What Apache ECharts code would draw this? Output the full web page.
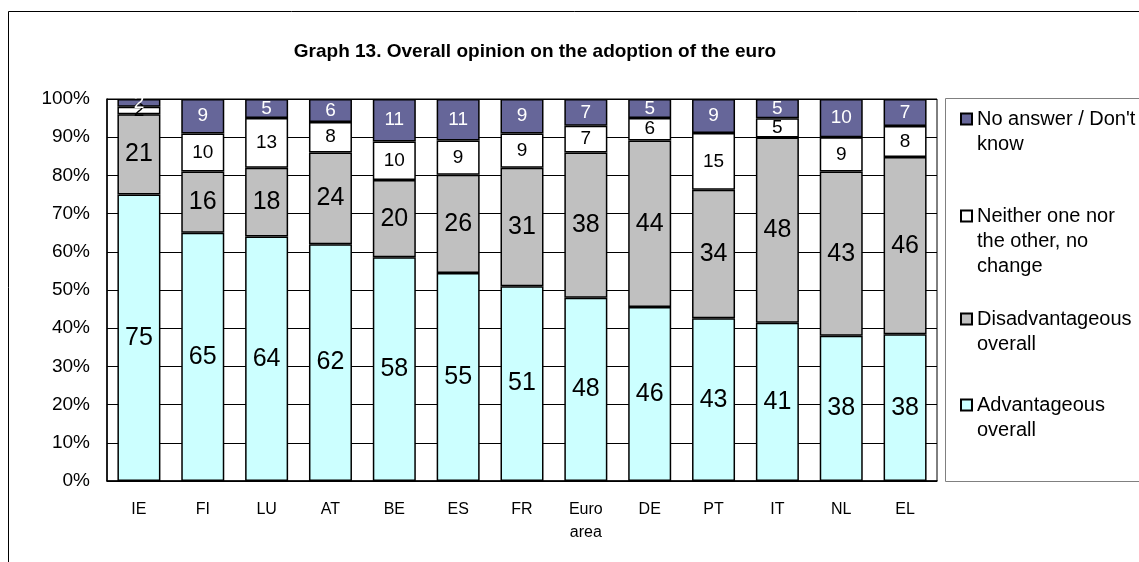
<!DOCTYPE html>
<html>
<head>
<meta charset="utf-8">
<script src="https://cdn.jsdelivr.net/npm/echarts@6/dist/echarts.min.js"></script>
<style>
  html, body { margin: 0; padding: 0; background: #fff; }
  #chart { width: 1139px; height: 562px; }
</style>
</head>
<body>
<div id="chart"></div>
<script>
const categories = ['IE', 'FI', 'LU', 'AT', 'BE', 'ES', 'FR', 'Euro\narea', 'DE', 'PT', 'IT', 'NL', 'EL']
const advantageous = [75, 65, 64, 62, 58, 55, 51, 48, 46, 43, 41, 38, 38]
const disadvantageous = [21, 16, 18, 24, 20, 26, 31, 38, 44, 34, 48, 43, 46]
const neither = [2, 10, 13, 8, 10, 9, 9, 7, 6, 15, 5, 9, 8]
const noAnswer = [2, 9, 5, 6, 11, 11, 9, 7, 5, 9, 5, 10, 7]
const yTicks = [0, 100, 10] // min, max, interval

const FONT = '"Liberation Sans", Arial, sans-serif'

// 100% stacked: plot the share of each row total, label with the raw value
const totals = categories.map((_, i) => advantageous[i] + disadvantageous[i] + neither[i] + noAnswer[i])
const share = arr => arr.map((v, i) => ({ value: v / totals[i] * 100, raw: v }))

const seriesDefs = [
  { name: 'Advantageous overall', data: advantageous, color: '#ccffff', label: '#000', size: 25,
    legend: ['Advantageous', 'overall'], top: 405 },
  { name: 'Disadvantageous overall', data: disadvantageous, color: '#c0c0c0', label: '#000', size: 25,
    legend: ['Disadvantageous', 'overall'], top: 319 },
  { name: 'Neither one nor the other, no change', data: neither, color: '#ffffff', label: '#000', size: 19,
    legend: ['Neither one nor', 'the other, no', 'change'], top: 216 },
  { name: "No answer / Don't know", data: noAnswer, color: '#666699', label: '#fff', size: 19,
    legend: ["No answer / Don't", 'know'], top: 119 },
]

const LH = 25
const chart = echarts.init(document.getElementById('chart'), null, { renderer: 'canvas' })

chart.setOption({
  animation: false,
  backgroundColor: '#fff',
  textStyle: { fontFamily: FONT },
  title: {
    text: 'Graph 13. Overall opinion on the adoption of the euro',
    left: 530, top: 37, textAlign: 'center',
    textStyle: { fontFamily: FONT, fontSize: 19, fontWeight: 'bold', color: '#000' },
  },
  grid: {
    left: 107, right: 1139 - 937, top: 99, bottom: 562 - 481,
    show: true, borderColor: '#000', borderWidth: 1, backgroundColor: 'transparent',
  },
  // one legend per entry so each can sit where the reference puts it,
  // icon lined up with the first text line
  legend: seriesDefs.map(s => {
    const n = s.legend.length
    return {
      data: [s.name],
      orient: 'vertical',
      left: 960,
      top: s.top - (2 * n - 1) * LH / 2,
      padding: 0,
      itemWidth: 11, itemHeight: 11,
      icon: 'rect',
      selectedMode: false,
      formatter: () => s.legend.map(t => '{a|' + t + '}').join('\n'),
      textStyle: {
        fontFamily: FONT, fontSize: 20, color: '#000', lineHeight: LH,
        padding: [(n - 1) * LH, 0, 0, 0],
        rich: { a: { fontFamily: FONT, fontSize: 20, color: '#000', lineHeight: LH } },
      },
    }
  }),
  xAxis: {
    type: 'category',
    data: categories,
    axisLine: { lineStyle: { color: '#000', width: 1.5 } },
    axisTick: { show: false },
    axisLabel: { color: '#000', fontSize: 16, margin: 17, lineHeight: 23, interval: 0 },
  },
  yAxis: {
    type: 'value',
    min: yTicks[0], max: yTicks[1], interval: yTicks[2],
    axisLine: { show: true, lineStyle: { color: '#000', width: 1.5 } },
    axisTick: { show: false },
    splitLine: { lineStyle: { color: '#000', width: 1 } },
    axisLabel: { color: '#000', fontSize: 19, margin: 17, formatter: '{value}%' },
  },
  graphic: [
    { type: 'rect', silent: true, z: -10,
      shape: { x: 8.5, y: 11.5, width: 1200, height: 600 },
      style: { fill: 'none', stroke: '#000', lineWidth: 1 } },
    { type: 'rect', silent: true, z: -10,
      shape: { x: 945.5, y: 98.5, width: 300, height: 383 },
      style: { fill: 'none', stroke: '#808080', lineWidth: 1 } },
  ],
  series: seriesDefs.map(s => ({
    name: s.name,
    type: 'bar',
    stack: 'total',
    barWidth: 43,
    data: share(s.data),
    itemStyle: { color: s.color, borderColor: '#000', borderWidth: 1.5 },
    label: {
      show: true,
      position: 'inside',
      color: s.label,
      fontSize: s.size,
      fontFamily: FONT,
      formatter: p => String(p.data.raw),
    },
  })),
})
</script>
</body>
</html>
